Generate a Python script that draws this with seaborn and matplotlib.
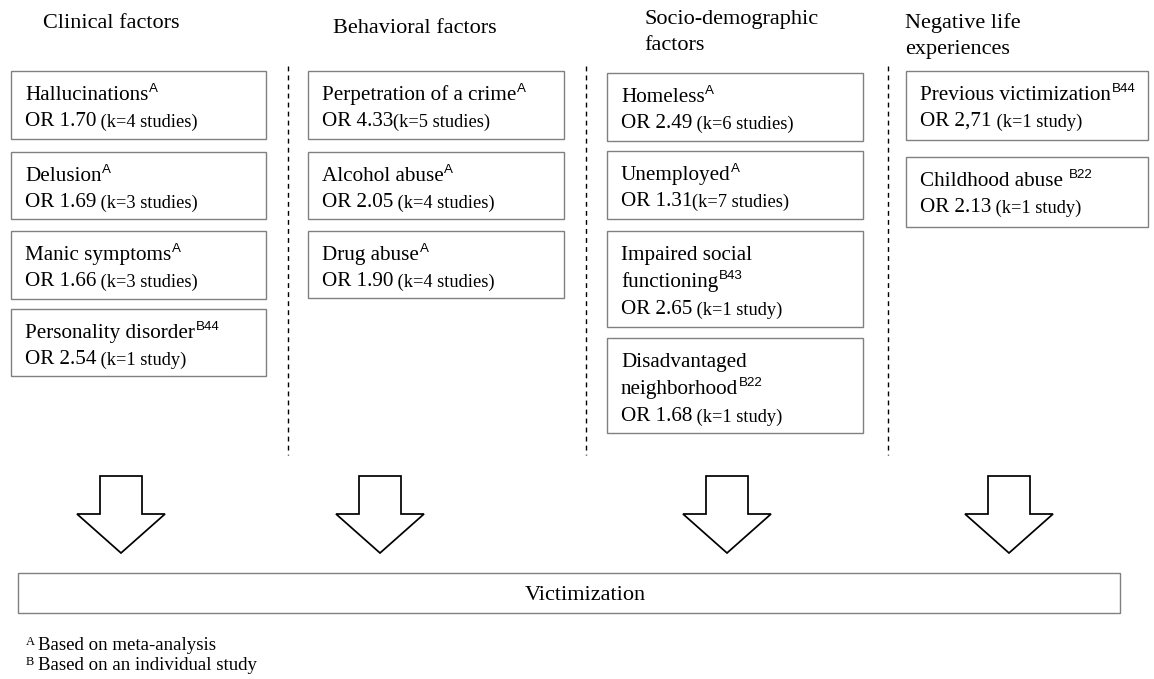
import matplotlib
matplotlib.use('Agg')
import matplotlib.pyplot as plt
from matplotlib.patches import Rectangle, Polygon
import seaborn as sns

# data
headers = [['Clinical factors'], ['Behavioral factors'],
           ['Socio-demographic', 'factors'], ['Negative life', 'experiences']]

factors = [
    ['Hallucinations', 'Delusion', 'Manic symptoms', 'Personality disorder'],
    ['Perpetration of a crime', 'Alcohol abuse', 'Drug abuse'],
    ['Homeless', 'Unemployed', 'Impaired social\nfunctioning', 'Disadvantaged\nneighborhood'],
    ['Previous victimization', 'Childhood abuse '],
]
sources = [
    ['A', 'A', 'A', 'B44'],
    ['A', 'A', 'A'],
    ['A', 'A', 'B43', 'B22'],
    ['B44', 'B22'],
]
odds = [
    ['OR 1.70', 'OR 1.69', 'OR 1.66', 'OR 2.54'],
    ['OR 4.33', 'OR 2.05', 'OR 1.90'],
    ['OR 2.49', 'OR 1.31', 'OR 2.65', 'OR 1.68'],
    ['OR 2,71', 'OR 2.13'],
]
studies = [
    [' (k=4 studies)', ' (k=3 studies)', ' (k=3 studies)', ' (k=1 study)'],
    ['(k=5 studies)', ' (k=4 studies)', ' (k=4 studies)'],
    [' (k=6 studies)', '(k=7 studies)', ' (k=1 study)', ' (k=1 study)'],
    [' (k=1 study)', ' (k=1 study)'],
]
outcome = 'Victimization'
notes = [('A', 'Based on meta-analysis'), ('B', 'Based on an individual study')]

# layout (pixels)
col_x = [(11, 266), (308, 564), (607, 863), (906, 1148)]
box_y = [
    [(71, 139), (152, 219), (231, 299), (309, 376)],
    [(71, 139), (152, 219), (231, 298)],
    [(73, 141), (151, 219), (231, 327), (338, 433)],
    [(71, 140), (157, 227)],
]
header_pos = [(43, 28), (333, 33), (644, 24), (905, 28)]
dash_x = [288, 586, 888]
arrow_cx = [121, 380, 727, 1009]

sns.set_theme(style='white')
plt.rcParams['font.family'] = ['Liberation Serif', 'DejaVu Serif']
plt.rcParams['text.color'] = 'black'

fig = plt.figure(figsize=(11.54, 6.79), dpi=100)
ax = fig.add_axes([0, 0, 1, 1])
ax.set_xlim(0, 1154)
ax.set_ylim(679, 0)
ax.axis('off')

main_fs = 15.2
small_fs = 13.2
sup_fs = 9.6
head_fs = 16
box_col = '#808080'


def write(x, y, txt, fs, sup=None, tail=None):
    t = ax.text(x, y, txt, fontsize=fs, va='baseline', ha='left')
    if sup:
        # superscript sits roughly on the x-height of the main text
        ax.annotate(sup, xy=(1, 0), xycoords=t, xytext=(0.5, 0.48 * fs),
                    textcoords='offset points', fontsize=sup_fs, va='bottom', ha='left',
                    family='Liberation Sans')
    if tail:
        ax.annotate(tail, xy=(1, 0), xycoords=t, fontsize=small_fs, va='bottom', ha='left')
    return t


for ci in range(4):
    x0, x1 = col_x[ci]
    hx, hy = header_pos[ci]
    for hi, hl in enumerate(headers[ci]):
        ax.text(hx, hy + hi * 26, hl, fontsize=head_fs, va='baseline', ha='left')
    for bi in range(len(factors[ci])):
        y0, y1 = box_y[ci][bi]
        ax.add_patch(Rectangle((x0, y0), x1 - x0, y1 - y0, fill=False, ec=box_col, lw=1))
        lines = factors[ci][bi].split('\n')
        step = 27 if len(lines) > 1 else 26
        base = y0 + 29
        for li, ln in enumerate(lines):
            last = li == len(lines) - 1
            write(x0 + 14, base + li * step, ln, main_fs, sup=sources[ci][bi] if last else None)
        write(x0 + 14, base + len(lines) * step, odds[ci][bi], main_fs, tail=studies[ci][bi])

# dashed separators
for dx in dash_x:
    ax.plot([dx, dx], [66, 455], color='black', lw=1, ls=(0, (3.5, 3)))

# arrows
for cx in arrow_cx:
    pts = [(cx - 21, 476), (cx + 21, 476), (cx + 21, 514), (cx + 44, 514),
           (cx, 553), (cx - 44, 514), (cx - 21, 514)]
    ax.add_patch(Polygon(pts, closed=True, fc='white', ec='black', lw=1.25, joinstyle='miter'))

# outcome box
ax.add_patch(Rectangle((18, 573), 1102, 40, fill=False, ec=box_col, lw=1))
ax.text(585, 600, outcome, fontsize=head_fs, ha='center', va='baseline')

# footnotes
for i, (k, note) in enumerate(notes):
    yy = 650 + i * 20
    ax.text(26, yy - 5, k, fontsize=9, va='baseline', ha='left')
    ax.text(38, yy, note, fontsize=13.6, va='baseline', ha='left')

fig.savefig('out.png', dpi=100, facecolor='white')
